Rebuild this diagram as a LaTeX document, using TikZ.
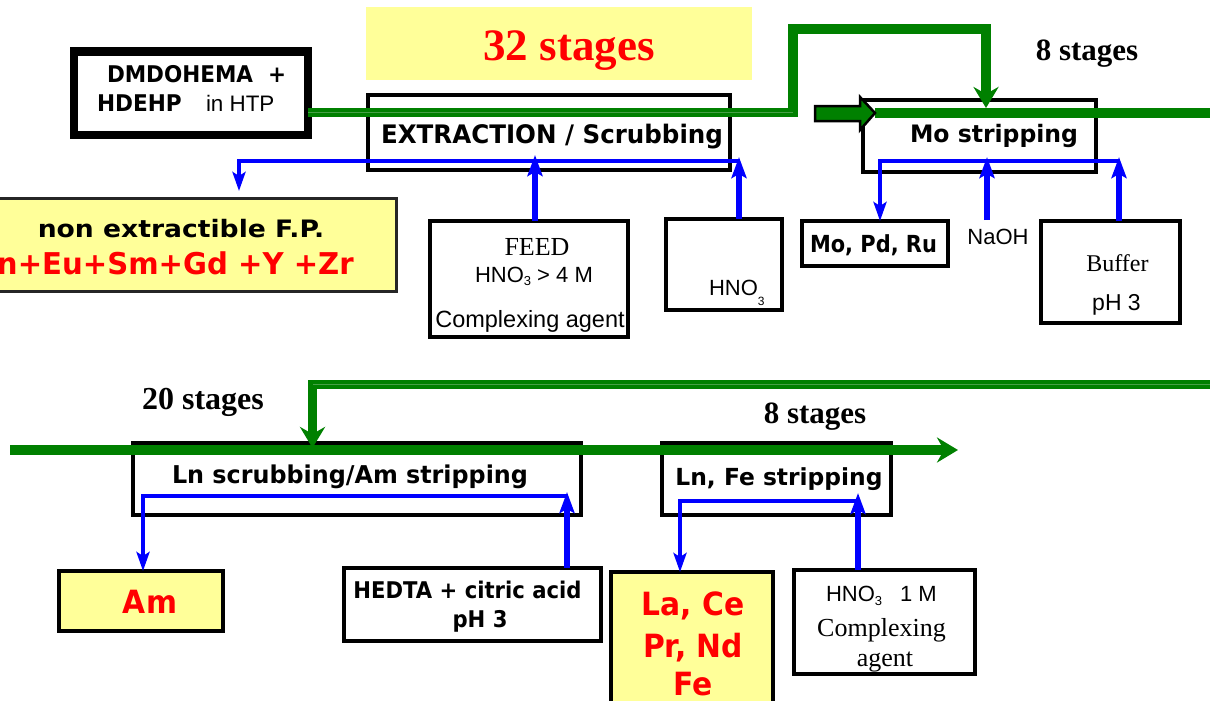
\documentclass[tikz,border=0pt]{standalone}
\usepackage{fontspec}
\setmainfont{Liberation Serif}
\setsansfont{Liberation Sans}
\newfontfamily\djv{DejaVu Sans}
\usepackage{graphicx}
\usetikzlibrary{arrows.meta}
\definecolor{gr}{RGB}{0,128,0}
\definecolor{grs}{RGB}{70,160,70}
\definecolor{bl}{RGB}{0,0,255}
\definecolor{rd}{RGB}{255,0,0}
\definecolor{yl}{RGB}{255,255,153}
\newcommand{\fsz}[1]{\fontsize{#1}{#1}\selectfont}
\newcommand{\hsx}[2]{\scalebox{#1}[1]{#2}}
\newcommand{\subthree}[2]{\raisebox{#2}{\fsz{#1}3}}
\tikzset{
  box/.style={draw=black, line width=4pt, inner sep=0pt, outer sep=0pt},
  txt/.style={inner sep=0pt, outer sep=0pt, anchor=base},
  gline/.style={draw=gr, line width=9.5pt},
  gstripe/.style={draw=grs, line width=0.8pt},
  bline/.style={draw=bl, line width=4.3pt},
  bupline/.style={draw=bl, line width=6.5pt},
  gtip/.tip={Stealth[length=21pt,width=25pt,inset=7pt]},
  bdtip/.tip={Stealth[length=19pt,width=13pt,inset=4pt]},
  butip/.tip={Stealth[length=21pt,width=15pt,inset=4pt]},
}
\begin{document}
\begin{tikzpicture}[x=1pt,y=-1pt]
\path[use as bounding box, fill=white] (0,0) rectangle (1210,701);

% ---------- boxes ----------
\node[fill=yl, inner sep=0pt, minimum width=386pt, minimum height=73pt] (title) at (559,43.5) {};
\node[box, line width=8.5pt, minimum width=234pt, minimum height=83.5pt] (dmdo) at (191,93.25) {};
\node[box, minimum width=362pt, minimum height=75pt] (extr) at (549,132.5) {};
\node[box, minimum width=233pt, minimum height=72pt] (mostr) at (979.5,136) {};
\node[box, minimum width=146pt, minimum height=45pt] (mopd) at (875,243.5) {};
\node[box, minimum width=139pt, minimum height=102pt] (buffer) at (1110.5,272) {};
\node[box, minimum width=198pt, minimum height=116pt] (feed) at (529,279) {};
\node[box, minimum width=116pt, minimum height=91pt] (hno) at (724,264.5) {};
\node[box, line width=3pt, draw=black!85, fill=yl, minimum width=401.5pt, minimum height=93pt] (nonext) at (195.75,245) {};
\node[box, minimum width=448pt, minimum height=72pt] (lnscr) at (357,479) {};
\node[box, minimum width=229pt, minimum height=72pt] (lnfe) at (776.5,479) {};
\node[box, fill=yl, minimum width=164pt, minimum height=60pt] (am) at (141,601) {};
\node[box, minimum width=257pt, minimum height=73pt] (hedta) at (472.5,604.5) {};
\node[box, fill=yl, minimum width=162pt, minimum height=143pt] (lace) at (692,643.5) {};
\node[box, minimum width=181pt, minimum height=104pt] (hnoa) at (884.5,622) {};

% ---------- texts ----------
\node[txt, font={\rmfamily\bfseries\fsz{45}}, text=rd] (t32) at (569,61) {32 stages};
\node[txt, font={\rmfamily\bfseries\fsz{31}}] (t8a) at (1087,60) {8 stages};
\node[txt, font={\rmfamily\bfseries\fsz{32}}] (t20) at (203,409) {20 stages};
\node[txt, font={\rmfamily\bfseries\fsz{31}}] (t8b) at (815,423) {8 stages};

\node[txt, anchor=base west, font={\djv\bfseries\fsz{23}}] (dm1) at (107,82) {\hsx{.935}{DMDOHEMA\ \ +}};
\node[txt, anchor=base west, font={\djv\bfseries\fsz{23}}] (dm2) at (97,111) {\hsx{.94}{HDEHP}};
\node[txt, anchor=base west, font={\sffamily\fsz{22.4}}] (dm3) at (206,111) {in HTP};

\node[txt, font={\djv\bfseries\fsz{25.5}}] (extrt) at (552,143) {\hsx{.962}{EXTRACTION / Scrubbing}};
\node[txt, font={\djv\bfseries\fsz{24}}] (mot) at (994,142) {\hsx{.98}{Mo stripping}};
\node[txt, font={\djv\bfseries\fsz{23.5}}] (mopdt) at (873.5,252) {\hsx{.89}{Mo, Pd, Ru}};
\node[txt, font={\djv\bfseries\fsz{24}}] (nonextt) at (181,237) {\hsx{1.108}{non extractible F.P.}};
\node[txt, anchor=base west, font={\djv\bfseries\fsz{30}}, text=rd] (redt) at (-3,274) {\hsx{.972}{n+Eu+Sm+Gd +Y +Zr}};

\node[txt, font={\rmfamily\fsz{26}}] (feedt) at (537,255) {FEED};
\node[txt, anchor=base west, font={\sffamily\fsz{22}}] (feedh) at (475,282) {HNO\subthree{13}{-3pt}\ > 4 M};
\node[txt, font={\sffamily\fsz{23.5}}] (feedc) at (530,327) {Complexing agent};
\node[txt, anchor=base west, font={\sffamily\fsz{22}}] (hnot) at (709,295) {HNO\subthree{12}{-10pt}};

\node[txt, font={\sffamily\fsz{22}}] (naoht) at (998,244) {NaOH};
\node[txt, font={\rmfamily\fsz{24}}] (buft) at (1117.5,271) {Buffer};
\node[txt, font={\sffamily\fsz{23}}] (bufp) at (1116.5,310) {pH 3};

\node[txt, font={\djv\bfseries\fsz{24.5}}] (lnst) at (350,483) {\hsx{.973}{Ln scrubbing/Am stripping}};
\node[txt, font={\djv\bfseries\fsz{23.5}}] (lnft) at (779,485) {\hsx{.995}{Ln, Fe stripping}};
\node[txt, font={\djv\bfseries\fsz{32}}, text=rd] (amt) at (150,613) {\hsx{.93}{Am}};
\node[txt, font={\djv\bfseries\fsz{23}}] (hedt1) at (467.5,598) {\hsx{.92}{HEDTA + citric acid}};
\node[txt, font={\djv\bfseries\fsz{23}}] (hedt2) at (480,627) {\hsx{.92}{pH 3}};
\node[txt, font={\djv\bfseries\fsz{32}}, text=rd] (lace1) at (693,615) {\hsx{.93}{La, Ce}};
\node[txt, font={\djv\bfseries\fsz{32}}, text=rd] (lace2) at (693,657) {\hsx{.93}{Pr, Nd}};
\node[txt, font={\djv\bfseries\fsz{32}}, text=rd] (lace3) at (693,695) {\hsx{.93}{Fe}};
\node[txt, anchor=base west, font={\sffamily\fsz{22}}] (hnoat) at (826,601) {HNO\subthree{13}{-4pt}\hspace{18pt}1 M};
\node[txt, font={\rmfamily\fsz{26}}] (hnoab) at (881.5,636) {Complexing};
\node[txt, font={\rmfamily\fsz{26}}] (hnoac) at (885,666) {agent};

% ---------- coordinates ----------
\coordinate (g1) at (793,112.5);
\coordinate (g2) at (793,29);
\coordinate (g3) at (986,29);
\coordinate (g4) at (986,108);
\coordinate (btip) at (875,113);
\coordinate (gend) at (1212,113);
\coordinate (h1) at (1212,384.5);
\coordinate (h2) at (312.5,384.5);
\coordinate (h3) at (312.5,448);
\coordinate (k1) at (10,450);
\coordinate (k2) at (958,450);

% ---------- green flows ----------
\draw[gline, -gtip] (dmdo.east |- g1) -- (g1) -- (g2) -- (g3) -- (g4);
\draw[gstripe] (dmdo.east |- g1) -- (g1);
\draw[gline] (btip) -- (gend);
\path[fill=gr, draw=black, line width=2.5pt, line join=miter]
  (815,106) -- (860,106) -- (860,97) -- (btip) -- (860,130) -- (860,121) -- (815,121) -- cycle;
\draw[gline, -gtip] (h1) -- (h2) -- (h3);
\draw[gstripe] (h1) -- (h2);
\draw[gline, -gtip] (k1) -- (k2);

% ---------- blue flows : extraction ----------
\coordinate (bx1) at (739,161);
\coordinate (bl1) at (239,161);
\coordinate (bl1e) at (239,191);
\draw[bline, -bdtip] (bx1) -- (bl1) -- (bl1e);
\coordinate (ft) at (535,155);
\draw[bupline, -butip] (ft |- feed.north) -- (ft);
\coordinate (ht) at (739,157);
\draw[bupline, -butip] (ht |- hno.north) -- (ht);

% ---------- blue flows : Mo stripping ----------
\coordinate (mr) at (1120,161);
\coordinate (ml) at (880,161);
\draw[bline, -bdtip] (mr) -- (ml) -- (ml |- mopd.north);
\coordinate (nt) at (987,157);
\coordinate (nb) at (987,220);
\draw[bupline, -butip] (nb) -- (nt);
\coordinate (bt) at (1119,157);
\draw[bupline, -butip] (bt |- buffer.north) -- (bt);

% ---------- blue flows : Ln scrubbing ----------
\coordinate (lr) at (567,496);
\coordinate (ll) at (143,496);
\draw[bline, -bdtip] (lr) -- (ll) -- (ll |- am.north);
\coordinate (ht2) at (567,492);
\draw[bupline, -butip] (ht2 |- hedta.north) -- (ht2);

% ---------- blue flows : Ln, Fe stripping ----------
\coordinate (fr) at (858,501);
\coordinate (fl) at (680,501);
\draw[bline, -bdtip] (fr) -- (fl) -- (fl |- lace.north);
\coordinate (ft2) at (858,493);
\draw[bupline, -butip] (ft2 |- hnoa.north) -- (ft2);
\end{tikzpicture}
\end{document}
